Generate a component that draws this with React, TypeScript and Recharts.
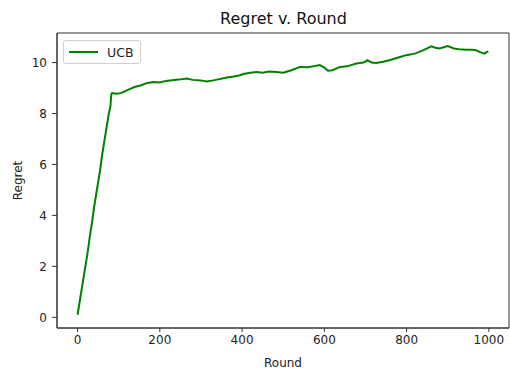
import { LineChart, Line, XAxis, YAxis, Legend, ReferenceArea } from "recharts";

// values
const rounds = [
  0, 5, 10, 15, 20, 25, 30, 35, 40, 45, 50, 55, 60, 65, 70, 76, 80, 82, 84, 95,
  105, 112, 125, 140, 153, 170, 185, 200, 215, 225, 245, 266, 280, 300, 314,
  330, 345, 363, 380, 395, 403, 420, 436, 450, 465, 484, 500, 520, 541, 560,
  575, 589, 600, 609, 620, 638, 655, 678, 695, 705, 715, 726, 743, 760, 780,
  799, 820, 840, 860, 870, 880, 890, 900, 915, 928, 945, 960, 969, 980, 989,
  995, 999,
];
const regret = [
  0.1, 0.6, 1.1, 1.6, 2.1, 2.6, 3.2, 3.7, 4.3, 4.8, 5.3, 5.8, 6.4, 6.9, 7.4,
  8.0, 8.3, 8.75, 8.8, 8.78, 8.8, 8.85, 8.95, 9.05, 9.1, 9.2, 9.24, 9.22, 9.28,
  9.3, 9.33, 9.37, 9.32, 9.3, 9.26, 9.3, 9.35, 9.41, 9.45, 9.5, 9.55, 9.6,
  9.63, 9.6, 9.65, 9.63, 9.6, 9.7, 9.83, 9.82, 9.86, 9.9, 9.8, 9.68, 9.7, 9.83,
  9.85, 9.96, 10.0, 10.09, 10.0, 9.98, 10.03, 10.1, 10.2, 10.29, 10.35, 10.48,
  10.64, 10.58, 10.55, 10.6, 10.65, 10.55, 10.52, 10.5, 10.5, 10.48, 10.4,
  10.35, 10.42, 10.44,
];
const xTicks = [0, 200, 400, 600, 800, 1000];
const yTicks = [0, 2, 4, 6, 8, 10];
const xDomain = [-50, 1049];
const yDomain = [-0.42, 11.16];

const data = rounds.map((r, i) => ({ round: r, ucb: regret[i] }));

const FONT = "'DejaVu Sans', sans-serif";
const AXIS = "#333";
const tickStyle = { fontSize: 12, fill: "#222", fontFamily: FONT };

function LegendBox() {
  return (
    <div
      style={{
        width: 76,
        height: 22,
        border: "1px solid #d0d0d0",
        borderRadius: 3,
        background: "rgba(255,255,255,0.8)",
        display: "flex",
        alignItems: "center",
        fontFamily: FONT,
        fontSize: 12.5,
        color: "#222",
      }}
    >
      <span
        style={{
          display: "inline-block",
          width: 29,
          height: 0,
          borderTop: "2px solid green",
          marginLeft: 5,
          marginRight: 9,
        }}
      />
      UCB
    </div>
  );
}

export default function App() {
  return (
    <div style={{ position: "absolute", left: 0, top: 0, width: 510, height: 371, background: "#fff" }}>
      <div
        style={{
          position: "absolute",
          left: 57,
          top: 9,
          width: 453,
          textAlign: "center",
          fontFamily: FONT,
          fontSize: 16,
          lineHeight: "20px",
          color: "#111",
        }}
      >
        Regret v. Round
      </div>
      <LineChart
        width={510}
        height={371}
        data={data}
        margin={{ top: 33, right: 1, left: 0, bottom: 0 }}
      >
        <XAxis
          dataKey="round"
          type="number"
          domain={xDomain}
          ticks={xTicks}
          tick={tickStyle}
          tickSize={4}
          tickMargin={3}
          stroke={AXIS}
          height={43}
          label={{ value: "Round", position: "insideBottom", offset: 4, style: { fontSize: 12, fill: "#222", fontFamily: FONT } }}
        />
        <YAxis
          type="number"
          domain={yDomain}
          ticks={yTicks}
          tick={tickStyle}
          tickSize={5}
          tickMargin={5}
          stroke={AXIS}
          width={57}
          label={({ viewBox }: any) => (
            <text
              x={18}
              y={viewBox.y + viewBox.height / 2}
              transform={`rotate(-90 18 ${viewBox.y + viewBox.height / 2})`}
              textAnchor="middle"
              dominantBaseline="central"
              style={{ fontSize: 12, fill: "#222", fontFamily: FONT }}
            >
              Regret
            </text>
          )}
        />
        <ReferenceArea
          x1={xDomain[0]}
          x2={xDomain[1]}
          y1={yDomain[0]}
          y2={yDomain[1]}
          fill="none"
          stroke={AXIS}
          strokeWidth={1}
        />
        <Legend
          layout="vertical"
          align="center"
          verticalAlign="middle"
          wrapperStyle={{ left: 63, top: 40, width: "auto", height: "auto" }}
          content={() => <LegendBox />}
        />
        <Line
          type="linear"
          dataKey="ucb"
          name="UCB"
          stroke="green"
          strokeWidth={2}
          dot={false}
          isAnimationActive={false}
        />
      </LineChart>
    </div>
  );
}
